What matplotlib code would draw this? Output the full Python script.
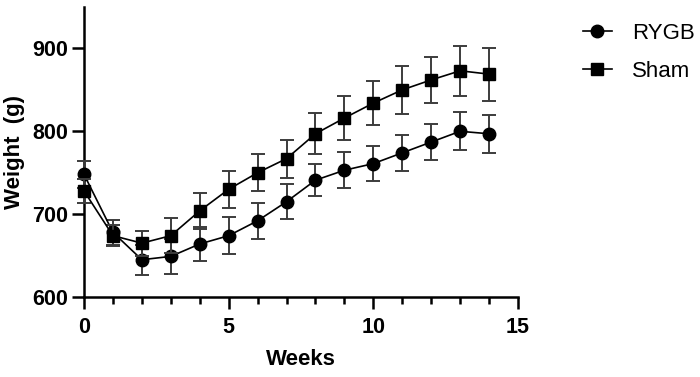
import matplotlib
matplotlib.use("Agg")
import matplotlib.pyplot as plt
from matplotlib.ticker import MultipleLocator
from matplotlib.lines import Line2D

plt.rcParams['font.family'] = ['Liberation Sans', 'DejaVu Sans']

weeks = list(range(15))
rygb_mean = [748, 678, 645, 649, 664, 674, 692, 715, 741, 753, 761, 774, 787, 800, 797]
rygb_sem = [16, 15, 18, 21, 20, 22, 22, 21, 19, 22, 21, 22, 22, 23, 23]
sham_mean = [728, 674, 665, 674, 704, 730, 750, 767, 797, 816, 834, 850, 862, 873, 869]
sham_sem = [14, 13, 15, 21, 22, 22, 22, 23, 25, 26, 27, 29, 28, 30, 32]

fig = plt.figure(figsize=(7, 3.77), dpi=100)
ax = fig.add_axes([84/700, 80/377, 434/700, 290/377])

ec = '#3c3c3c'
for mean, sem, mk, z in [(rygb_mean, rygb_sem, 'o', 3), (sham_mean, sham_sem, 's', 4)]:
    cont = ax.errorbar(weeks, mean, yerr=sem, fmt='-' + mk, color='black', ms=9,
                       lw=1.2, ecolor=ec, elinewidth=1.4, capsize=5, capthick=1.4,
                       zorder=z)
    for art in [cont[0], *cont[1], *cont[2]]:
        art.set_clip_on(False)

ax.set_xlim(0, 15)
ax.set_ylim(600, 950)
ax.set_yticks([600, 700, 800, 900])
ax.xaxis.set_major_locator(MultipleLocator(5))
ax.xaxis.set_minor_locator(MultipleLocator(1))

for s in ['top', 'right']:
    ax.spines[s].set_visible(False)
for s in ['left', 'bottom']:
    ax.spines[s].set_linewidth(1.8)
ax.tick_params(which='major', length=8.5, width=1.8, labelsize=15.5, pad=3)
ax.tick_params(which='minor', length=5, width=1.8)
ax.tick_params(axis='x', which='major', pad=6)
for lab in ax.get_xticklabels() + ax.get_yticklabels():
    lab.set_fontweight('bold')

ax.set_xlabel('Weeks', fontsize=16, fontweight='bold', labelpad=8)
ax.set_ylabel('Weight  (g)', fontsize=16, fontweight='bold', labelpad=5)

handles = [Line2D([], [], color='black', lw=1.2, marker='o', ms=9),
           Line2D([], [], color='black', lw=1.2, marker='s', ms=9)]
leg = fig.legend(handles=handles, labels=['RYGB', 'Sham'],
                 loc='upper left', bbox_to_anchor=(574/700, 1 - 14/377),
                 frameon=False, fontsize=16, handlelength=1.3,
                 handletextpad=0.9, labelspacing=0.75, borderaxespad=0)

fig.savefig('out.png', dpi=100)
